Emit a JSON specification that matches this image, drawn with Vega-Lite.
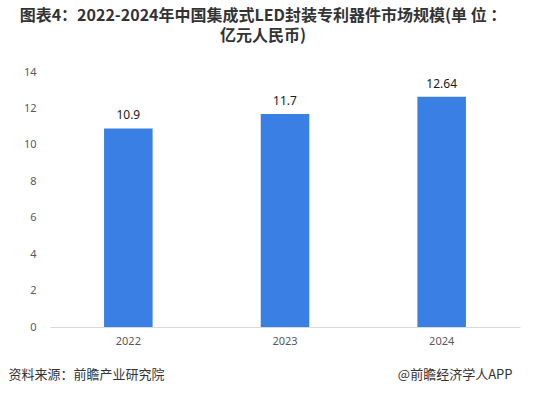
{
  "$schema": "https://vega.github.io/schema/vega-lite/v6.json",
  "width": 470,
  "height": 255,
  "autosize": "none",
  "padding": {"left": 50, "top": 72, "right": 13, "bottom": 68},
  "background": "white",
  "config": {"view": {"stroke": null}, "font": "Microsoft YaHei, Noto Sans CJK SC"},
  "title": {
    "text": "图表4：2022-2024年中国集成式LED封装专利器件市场规模(单 位 ：",
    "subtitle": "亿元人民币)",
    "font": "Noto Sans CJK SC",
    "fontSize": 16,
    "fontWeight": "bold",
    "color": "#333333",
    "subtitleFont": "Noto Sans CJK SC",
    "subtitleFontSize": 16,
    "subtitleFontWeight": "bold",
    "subtitleColor": "#333333",
    "subtitlePadding": 4,
    "anchor": "middle",
    "dx": -22,
    "offset": 22
  },
  "data": {"values": [
    {"year": "2022", "value": 10.9, "label": "10.9"},
    {"year": "2023", "value": 11.7, "label": "11.7"},
    {"year": "2024", "value": 12.64, "label": "12.64"}
  ]},
  "encoding": {
    "x": {
      "field": "year", "type": "nominal",
      "scale": {"paddingInner": 0.69, "paddingOuter": 0.345},
      "axis": {
        "labelAngle": 0, "labelFont": "Noto Sans", "labelFontSize": 11, "labelColor": "#595959",
        "labelPadding": 8, "ticks": false, "domainColor": "#d9d9d9",
        "title": "资料来源：前瞻产业研究院", "titleFont": "Noto Sans CJK SC", "titleFontSize": 13,
        "titleFontWeight": "normal", "titleColor": "#333333",
        "titleAnchor": "start", "titleAlign": "left", "titleBaseline": "middle",
        "titleX": -42, "titleY": 47
      }
    },
    "y": {
      "field": "value", "type": "quantitative",
      "scale": {"domain": [0, 14]},
      "axis": {
        "values": [0, 2, 4, 6, 8, 10, 12, 14], "grid": false, "domain": false, "ticks": false,
        "labelFont": "Noto Sans", "labelFontSize": 11, "labelColor": "#595959", "labelPadding": 14,
        "title": "@前瞻经济学人APP", "titleAngle": 0, "titleFont": "Noto Sans CJK SC", "titleFontSize": 13,
        "titleFontWeight": "normal", "titleColor": "#333333",
        "titleAlign": "right", "titleBaseline": "middle", "titleX": 462, "titleY": 302
      }
    }
  },
  "layer": [
    {"mark": {"type": "bar", "color": "#3a80e4"}},
    {
      "mark": {"type": "text", "baseline": "bottom", "dy": -6, "font": "Noto Sans", "fontSize": 12, "color": "#1a1a1a"},
      "encoding": {"text": {"field": "label"}}
    }
  ]
}
